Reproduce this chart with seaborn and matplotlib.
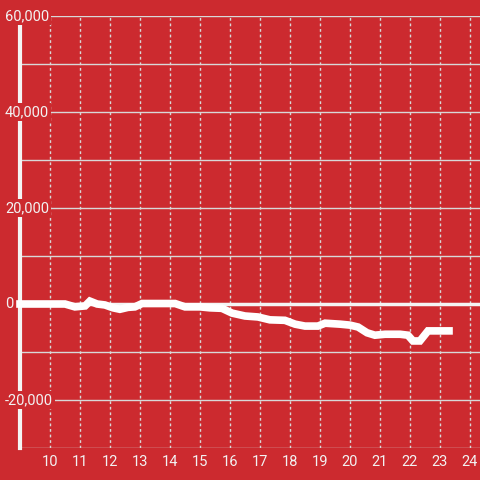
import pandas as pd
import matplotlib
matplotlib.use('Agg')
import matplotlib.pyplot as plt
import seaborn as sns

# hour of day vs cumulative value
hours = [9.0, 10.5, 10.83, 11.17, 11.33, 11.57, 11.83, 12.1, 12.33, 12.6, 12.83, 13.07,
         14.17, 14.5, 15.0, 15.33, 15.73, 16.07, 16.5, 16.93, 17.33, 17.83, 18.17, 18.5,
         18.93, 19.17, 19.67, 20.0, 20.27, 20.57, 20.83, 21.17, 21.67, 21.93, 22.1, 22.33,
         22.6, 23.3]
values = [0, 0, -600, -400, 600, 0, -200, -800, -1100, -700, -600, 100,
          100, -600, -600, -800, -900, -1900, -2500, -2700, -3300, -3400, -4200, -4600,
          -4600, -4000, -4200, -4400, -4800, -6000, -6500, -6300, -6300, -6500, -7700, -7700,
          -5600, -5600]

yticks = [60000, 40000, 20000, 0, -20000]
ytick_labels = ['60,000', '40,000', '20,000', '0', '-20,000']
xticks = list(range(10, 25))

red = '#cc2a2f'
grid_col = '#d8d8d8'
text_col = '#f2f2f2'

plt.rcParams['font.family'] = ['Roboto', 'DejaVu Sans']

df = pd.DataFrame({'hour': hours, 'value': values})

fig = plt.figure(figsize=(4.8, 4.8), dpi=100, facecolor=red)
ax = fig.add_axes([20 / 480, 32 / 480, 460 / 480, 432 / 480])
ax.set_facecolor(red)

ax.set_xlim(9, 9 + 460 / 30)
ax.set_ylim(-30000, 60000)

# grid
for y in range(-30000, 60001, 10000):
    ax.axhline(y, color=grid_col, lw=1, zorder=1)
for x in xticks:
    ax.axvline(x, color=grid_col, lw=1, ls=(0, (2, 2)), zorder=1)
ax.axhline(0, color='#f4f4f4', lw=2.5, zorder=2)

sns.lineplot(data=df, x='hour', y='value', ax=ax, color='white', lw=5.5, zorder=6,
             solid_joinstyle='miter', solid_capstyle='projecting')
ax.lines[-1].set_clip_on(False)

for s in ['top', 'right', 'bottom']:
    ax.spines[s].set_visible(False)
ax.spines['left'].set_color('#f4f4f4')
ax.spines['left'].set_linewidth(3)
ax.spines['left'].set_zorder(4)

ax.set_yticks(yticks)
ax.set_yticklabels([])
ax.set_xticks(xticks)
ax.set_xticklabels([str(x) for x in xticks], color=text_col, fontsize=10.5)
ax.tick_params(axis='both', length=0)
ax.tick_params(axis='x', pad=5)
ax.set_xlabel('')
ax.set_ylabel('')

for v, lab in zip(yticks, ytick_labels):
    ax.text(8.5, v, lab, ha='left', va='center', color=text_col, fontsize=10.5,
            zorder=5, bbox=dict(fc=red, ec='none', pad=1.5))

fig.savefig('out.png', dpi=100, facecolor=red)
